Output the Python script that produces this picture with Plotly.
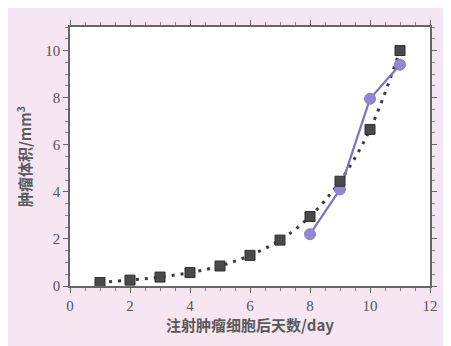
import plotly.graph_objects as go

days_a = [1, 2, 3, 4, 5, 6, 7, 8, 9, 10, 11]
vol_a = [0.15, 0.25, 0.38, 0.57, 0.85, 1.3, 1.95, 2.95, 4.45, 6.65, 10.0]
days_b = [8, 9, 10, 11]
vol_b = [2.2, 4.1, 7.95, 9.4]
x_ticks = [0, 2, 4, 6, 8, 10, 12]
y_ticks = [0, 2, 4, 6, 8, 10]

fig = go.Figure()
fig.add_trace(go.Scatter(
    x=days_a, y=vol_a, mode="lines",
    line=dict(color="#3c3c3c", width=3, dash="3px,6px", shape="spline", smoothing=1.0),
    hoverinfo="skip", showlegend=False))
fig.add_trace(go.Scatter(
    x=days_b, y=vol_b, mode="lines+markers",
    line=dict(color="#7d72c4", width=2.2),
    marker=dict(symbol="circle", size=11, color="#9486d2", line=dict(color="#8a7dcc", width=1)),
    showlegend=False))
fig.add_trace(go.Scatter(
    x=days_a, y=vol_a, mode="markers",
    marker=dict(symbol="square", size=10, color="#4a4a4a", line=dict(color="#2e2e2e", width=1)),
    showlegend=False))

axis_common = dict(
    showgrid=False, zeroline=False, showline=True, linecolor="#666", linewidth=1.5,
    mirror="ticks", ticks="outside", ticklen=5, tickcolor="#666", tickwidth=1.2,
    tickfont=dict(family="Liberation Serif", size=15, color="#555"),
    minor=dict(ticks="outside", ticklen=3, tickcolor="#888"),
)
fig.update_xaxes(range=[0, 12], tickvals=x_ticks, **axis_common,
                 title=dict(text="注射肿瘤细胞后天数/day",
                            font=dict(family="Noto Sans CJK SC", size=15, color="#5a5a5a", weight="bold"),
                            standoff=4))
fig.update_yaxes(range=[0, 11], tickvals=y_ticks, **axis_common,
                 title=dict(text="肿瘤体积/mm<sup>3</sup>",
                            font=dict(family="Noto Sans CJK SC", size=15, color="#5a5a5a", weight="bold"),
                            standoff=10))

fig.update_layout(
    width=451, height=346,
    paper_bgcolor="#f6e6f1", plot_bgcolor="white",
    margin=dict(l=62, r=29, t=12, b=68),
)
fig.write_html("out.html")
